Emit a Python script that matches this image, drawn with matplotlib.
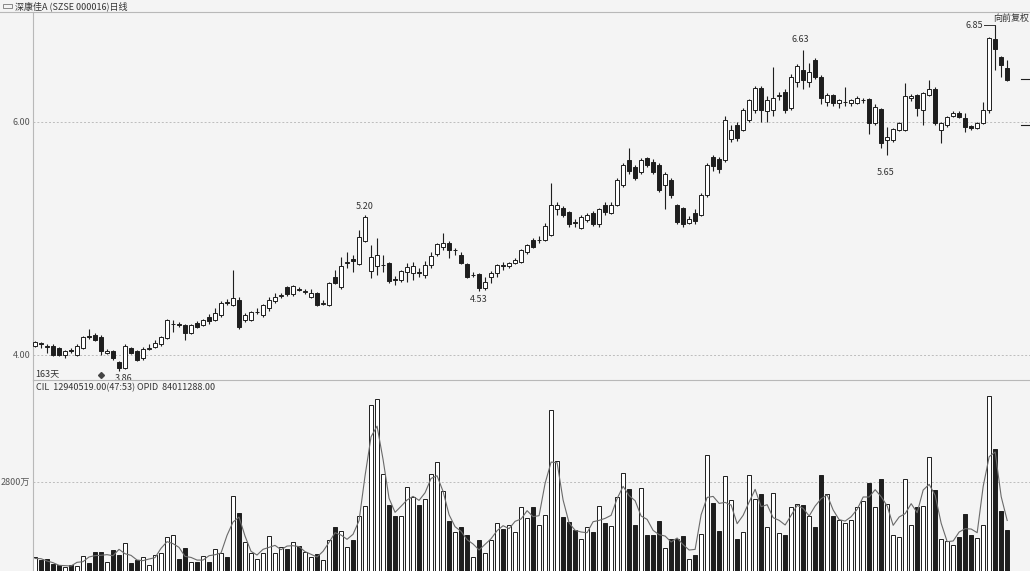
"""深康佳A daily K-line (163 sessions) with a volume pane underneath.

Two stacked axes laid out in pixel terms on a 1030x571 canvas: candles on
top, volume bars + short moving average at the bottom (cut off by the edge).
"""
import matplotlib
matplotlib.use("Agg")

import matplotlib.pyplot as plt
import numpy as np
import pandas as pd
from matplotlib.lines import Line2D
from matplotlib.patches import Rectangle

plt.rcParams["font.family"] = ["Noto Sans CJK SC", "DejaVu Sans"]

# ---------- data (prices in yuan, volume in 万股) ----------
OPEN = [
    4.08, 4.10, 4.08, 4.08, 4.06, 4.00, 4.04, 4.00, 4.06, 4.16,
    4.17, 4.15, 4.02, 4.03, 3.94, 3.89, 4.06, 4.03, 3.97, 4.05,
    4.07, 4.09, 4.145, 4.265, 4.265, 4.26, 4.19, 4.275, 4.26, 4.33,
    4.30, 4.34, 4.455, 4.43, 4.47, 4.30, 4.30, 4.365, 4.34, 4.40,
    4.46, 4.51, 4.58, 4.52, 4.565, 4.54, 4.50, 4.53, 4.44, 4.43,
    4.67, 4.58, 4.79, 4.825, 4.78, 4.98, 4.72, 4.76, 4.77, 4.79,
    4.65, 4.645, 4.71, 4.70, 4.715, 4.69, 4.77, 4.87, 4.93, 4.96,
    4.90, 4.86, 4.78, 4.685, 4.695, 4.575, 4.67, 4.70, 4.77, 4.76,
    4.79, 4.80, 4.88, 4.99, 4.985, 4.99, 5.03, 5.25, 5.26, 5.23,
    5.145, 5.09, 5.16, 5.22, 5.12, 5.29, 5.22, 5.29, 5.46, 5.67,
    5.61, 5.57, 5.69, 5.66, 5.63, 5.46, 5.50, 5.29, 5.26, 5.13,
    5.22, 5.20, 5.37, 5.70, 5.68, 5.67, 5.85, 5.97, 5.93, 6.02,
    6.10, 6.29, 6.09, 6.10, 6.22, 6.26, 6.12, 6.34, 6.45, 6.34,
    6.53, 6.39, 6.17, 6.23, 6.16, 6.17, 6.16, 6.165, 6.185, 6.20,
    5.99, 6.11, 5.845, 5.845, 5.93, 5.93, 6.206, 6.23, 6.10, 6.23,
    6.28, 5.93, 5.97, 6.05, 6.077, 6.034, 5.965, 5.948, 5.99, 6.10,
    6.71, 6.56, 6.46,
]
HIGH = [
    4.12, 4.11, 4.09, 4.09, 4.07, 4.04, 4.06, 4.09, 4.16, 4.22,
    4.19, 4.17, 4.05, 4.04, 3.95, 4.09, 4.07, 4.04, 4.07, 4.09,
    4.13, 4.16, 4.31, 4.30, 4.28, 4.27, 4.27, 4.29, 4.31, 4.35,
    4.40, 4.46, 4.48, 4.73, 4.50, 4.36, 4.38, 4.40, 4.44, 4.50,
    4.53, 4.53, 4.59, 4.60, 4.58, 4.57, 4.57, 4.54, 4.47, 4.63,
    4.73, 4.84, 4.88, 4.86, 5.07, 5.20, 4.94, 5.00, 4.86, 4.80,
    4.68, 4.73, 4.79, 4.80, 4.75, 4.81, 4.88, 4.96, 5.05, 4.975,
    4.92, 4.88, 4.79, 4.71, 4.70, 4.67, 4.72, 4.78, 4.80, 4.80,
    4.83, 4.91, 4.95, 5.00, 5.02, 5.13, 5.48, 5.31, 5.28, 5.24,
    5.17, 5.20, 5.22, 5.24, 5.26, 5.31, 5.31, 5.52, 5.65, 5.78,
    5.63, 5.69, 5.70, 5.68, 5.65, 5.57, 5.52, 5.30, 5.27, 5.19,
    5.25, 5.39, 5.65, 5.72, 5.70, 6.05, 5.97, 6.00, 6.12, 6.20,
    6.31, 6.31, 6.22, 6.47, 6.26, 6.28, 6.41, 6.50, 6.62, 6.51,
    6.55, 6.40, 6.25, 6.24, 6.20, 6.30, 6.20, 6.22, 6.21, 6.21,
    6.15, 6.12, 5.96, 5.95, 6.00, 6.335, 6.24, 6.24, 6.26, 6.36,
    6.30, 6.00, 6.05, 6.09, 6.09, 6.08, 5.97, 6.00, 6.17, 6.73,
    6.83, 6.57, 6.53,
]
LOW = [
    4.07, 4.06, 4.02, 3.99, 3.99, 3.97, 4.02, 3.99, 4.05, 4.14,
    4.12, 4.00, 4.01, 3.96, 3.86, 3.88, 4.01, 3.95, 3.96, 4.04,
    4.06, 4.08, 4.14, 4.20, 4.24, 4.13, 4.18, 4.23, 4.25, 4.27,
    4.29, 4.33, 4.43, 4.42, 4.22, 4.28, 4.29, 4.35, 4.33, 4.38,
    4.45, 4.49, 4.51, 4.51, 4.55, 4.52, 4.49, 4.42, 4.43, 4.42,
    4.61, 4.57, 4.75, 4.71, 4.77, 4.97, 4.66, 4.69, 4.71, 4.62,
    4.60, 4.63, 4.63, 4.64, 4.67, 4.66, 4.75, 4.85, 4.90, 4.83,
    4.86, 4.78, 4.66, 4.67, 4.55, 4.56, 4.62, 4.67, 4.73, 4.75,
    4.78, 4.79, 4.87, 4.92, 4.96, 4.98, 5.02, 5.20, 5.18, 5.10,
    5.10, 5.08, 5.14, 5.11, 5.10, 5.20, 5.21, 5.28, 5.44, 5.55,
    5.50, 5.55, 5.61, 5.55, 5.40, 5.25, 5.35, 5.12, 5.10, 5.12,
    5.12, 5.19, 5.36, 5.58, 5.56, 5.66, 5.83, 5.84, 5.92, 6.00,
    6.08, 6.00, 6.00, 6.05, 6.19, 6.08, 6.10, 6.30, 6.28, 6.30,
    6.37, 6.15, 6.14, 6.14, 6.12, 6.14, 6.14, 6.15, 6.16, 5.90,
    5.97, 5.78, 5.72, 5.83, 5.92, 5.92, 6.18, 6.05, 5.97, 6.22,
    5.97, 5.82, 5.96, 6.04, 6.03, 5.91, 5.93, 5.94, 5.98, 6.08,
    6.45, 6.39, 6.35,
]
CLOSE = [
    4.11, 4.09, 4.07, 4.00, 4.00, 4.03, 4.03, 4.08, 4.15, 4.15,
    4.13, 4.03, 4.03, 3.97, 3.89, 4.08, 4.02, 3.96, 4.05, 4.06,
    4.10, 4.155, 4.30, 4.27, 4.255, 4.19, 4.26, 4.24, 4.30, 4.29,
    4.36, 4.45, 4.445, 4.49, 4.24, 4.34, 4.37, 4.37, 4.43, 4.47,
    4.50, 4.515, 4.52, 4.59, 4.555, 4.55, 4.53, 4.43, 4.45, 4.62,
    4.62, 4.76, 4.80, 4.81, 5.01, 5.18, 4.84, 4.86, 4.775, 4.635,
    4.64, 4.72, 4.755, 4.76, 4.705, 4.77, 4.85, 4.95, 4.96, 4.90,
    4.905, 4.79, 4.67, 4.69, 4.575, 4.625, 4.70, 4.77, 4.76, 4.79,
    4.815, 4.90, 4.94, 4.93, 4.99, 5.11, 5.29, 5.29, 5.20, 5.12,
    5.135, 5.18, 5.20, 5.12, 5.25, 5.23, 5.29, 5.50, 5.63, 5.58,
    5.52, 5.67, 5.63, 5.57, 5.42, 5.55, 5.37, 5.14, 5.12, 5.17,
    5.15, 5.37, 5.63, 5.62, 5.60, 6.02, 5.93, 5.86, 6.10, 6.19,
    6.29, 6.10, 6.19, 6.21, 6.23, 6.10, 6.39, 6.48, 6.36, 6.43,
    6.39, 6.21, 6.23, 6.16, 6.19, 6.175, 6.19, 6.21, 6.19, 5.99,
    6.13, 5.82, 5.87, 5.94, 5.99, 6.22, 6.22, 6.12, 6.25, 6.28,
    5.99, 5.99, 6.04, 6.077, 6.043, 5.957, 5.948, 5.99, 6.10, 6.72,
    6.63, 6.49, 6.36,
]
VOLUME = [
    440, 345, 377, 220, 190, 125, 190, 157, 470, 250,
    600, 600, 280, 660, 500, 880, 250, 345, 440, 190,
    500, 565, 1070, 1130, 377, 720, 280, 280, 470, 280,
    690, 565, 440, 2355, 1820, 910, 565, 377, 565, 1100,
    565, 750, 690, 910, 785, 600, 440, 535, 345, 975,
    1380, 1255, 755, 975, 1730, 2040, 5210, 5400, 3045, 2070,
    1730, 1730, 2640, 2325, 2070, 2260, 3045, 3420, 2510, 1570,
    1225, 1380, 1130, 440, 975, 565, 975, 1505, 1320, 1445,
    1225, 2010, 1665, 2010, 1445, 1760, 5055, 3450, 1700, 1540,
    1290, 1005, 1380, 1225, 2040, 1505, 1415, 2325, 3080, 2575,
    1445, 2605, 1130, 1130, 1570, 720, 1005, 1005, 1100, 377,
    500, 1160, 3640, 2135, 1255, 2980, 2230, 1005, 1225, 3015,
    2260, 2420, 1380, 2450, 1195, 1130, 2010, 2105, 2070, 1730,
    1380, 3015, 2420, 1730, 1600, 1505, 1600, 2010, 2200, 2765,
    2010, 2890, 2105, 1130, 1070, 2890, 1445, 2010, 2040, 3580,
    2545, 1005, 945, 815, 1070, 1790, 1130, 1035, 1445, 5500,
    3830, 1885, 1290,
]
PRICE_TICKS = [4.0, 6.0]
VOLUME_TICKS = [2800]
TITLE = "深康佳A (SZSE 000016)日线"

# ---------- style ----------
W_PX, H_PX = 1030, 571
BG = "#f4f4f4"
DARK = "#1e1e1e"
FRAME = "#b8b8b8"
GRID = "#bdbdbd"
LABEL = "#555555"
TEXT = "#333333"


def px_box(x0, y0, x1, y1):
    """Pixel box (top-left origin) -> figure fraction rect."""
    return (x0 / W_PX, 1 - y1 / H_PX, (x1 - x0) / W_PX, (y1 - y0) / H_PX)


def fig_line(fig, x0, y0, x1, y1, **kw):
    fig.add_artist(Line2D([x0 / W_PX, x1 / W_PX], [1 - y0 / H_PX, 1 - y1 / H_PX],
                          transform=fig.transFigure, **kw))


fig = plt.figure(figsize=(W_PX / 100, H_PX / 100), dpi=100)
fig.patch.set_facecolor(BG)

ax_p = fig.add_axes(px_box(33, 12, 1030, 380))
ax_v = fig.add_axes(px_box(33, 380, 1030, 571))

idx = np.arange(len(CLOSE))
opens, highs, lows, closes = map(np.asarray, (OPEN, HIGH, LOW, CLOSE))
up = closes >= opens

for ax in (ax_p, ax_v):
    ax.set_facecolor(BG)
    ax.set_xlim(-0.33, 165.8)
    ax.tick_params(length=0, labelsize=6.5, labelcolor=LABEL, pad=2)
    ax.set_xticks([])
    for side in ("top", "right", "bottom"):
        ax.spines[side].set_visible(False)
    ax.spines["left"].set_color(FRAME)
    ax.spines["left"].set_linewidth(0.8)

# ---------- price pane ----------
ax_p.set_ylim(3.785, 6.944)
ax_p.set_yticks(PRICE_TICKS, [f"{t:.2f}" for t in PRICE_TICKS])
for t in PRICE_TICKS:
    ax_p.axhline(t, color=GRID, lw=0.7, ls=(0, (2, 2)), zorder=0)

ax_p.vlines(idx, lows, highs, color=DARK, lw=0.8, zorder=2)
body_w = 0.7
for i in idx:
    lo = min(opens[i], closes[i])
    h = max(abs(closes[i] - opens[i]), 0.004)
    ax_p.add_patch(Rectangle((i - body_w / 2, lo), body_w, h,
                             facecolor="white" if up[i] else DARK,
                             edgecolor=DARK, lw=0.7, zorder=3))

# high/low callouts
txt = dict(fontsize=6.5, color=TEXT, ha="center")
ax_p.annotate("5.20", (55, HIGH[55]), xytext=(0, 3), textcoords="offset points", va="bottom", **txt)
ax_p.annotate("4.53", (74, LOW[74]), xytext=(0, -3), textcoords="offset points", va="top", **txt)
ax_p.annotate("3.86", (14, LOW[14]), xytext=(3, -2), textcoords="offset points", va="top", **txt)
ax_p.annotate("5.65", (142, LOW[142]), xytext=(-1, -10), textcoords="offset points", va="top", **txt)
ax_p.annotate("6.63", (128, HIGH[128]), xytext=(-2, 4), textcoords="offset points", va="bottom", **txt)
# 6.85 sits left of the wick top with a short leader
ax_p.plot([158.2, 160], [HIGH[160], HIGH[160]], color=TEXT, lw=0.7, zorder=4)
ax_p.annotate("6.85", (158.2, HIGH[160]), xytext=(-1, 0), textcoords="offset points",
              va="center", ha="right", fontsize=6.5, color=TEXT)
ax_p.plot([11], [3.83], marker="D", ms=3, color="#444444", clip_on=False)
ax_p.text(0.002, 0.005, "163天", transform=ax_p.transAxes, fontsize=6.5,
          color=TEXT, va="bottom", ha="left")

# ---------- volume pane ----------
ax_v.set_ylim(0, 6000)
ax_v.set_yticks(VOLUME_TICKS, [f"{t}万" for t in VOLUME_TICKS])
for t in VOLUME_TICKS:
    ax_v.axhline(t, color=GRID, lw=0.7, ls=(0, (2, 2)), zorder=0)
ax_v.bar(idx, VOLUME, width=0.74, color=["white" if u else DARK for u in up],
         edgecolor=DARK, lw=0.7, zorder=2)
vol_ma = pd.Series(VOLUME, dtype=float).rolling(3, center=True, min_periods=1).mean()
ax_v.plot(idx, vol_ma, color="#6a6a6a", lw=0.8, zorder=3)
ax_v.text(0.003, 0.985, "CIL  12940519.00(47:53)", transform=ax_v.transAxes,
          fontsize=6.5, color=TEXT, va="top", ha="left")
ax_v.text(0.104, 0.985, "OPID  84011288.00", transform=ax_v.transAxes,
          fontsize=6.5, color=TEXT, va="top", ha="left")

# ---------- frame, header, right-edge marks ----------
fig_line(fig, 0, 12, W_PX, 12, color=FRAME, lw=0.8)
fig_line(fig, 33, 380, W_PX, 380, color=FRAME, lw=0.8)
fig_line(fig, 1021, 79, 1030, 79, color=DARK, lw=0.8)
fig_line(fig, 1021, 125, 1030, 125, color=DARK, lw=0.8)
fig.add_artist(Rectangle((3 / W_PX, 1 - 8 / H_PX), 9 / W_PX, 4 / H_PX,
                         transform=fig.transFigure, facecolor="none",
                         edgecolor="#777777", lw=0.6))
fig.text(15 / W_PX, 1 - 6 / H_PX, TITLE, fontsize=6.5, color=TEXT,
         va="center", ha="left")
fig.text(1029 / W_PX, 1 - 18 / H_PX, "向前复权", fontsize=6.5, color=TEXT,
         va="center", ha="right")

fig.savefig("out.png", dpi=100, facecolor=BG)
